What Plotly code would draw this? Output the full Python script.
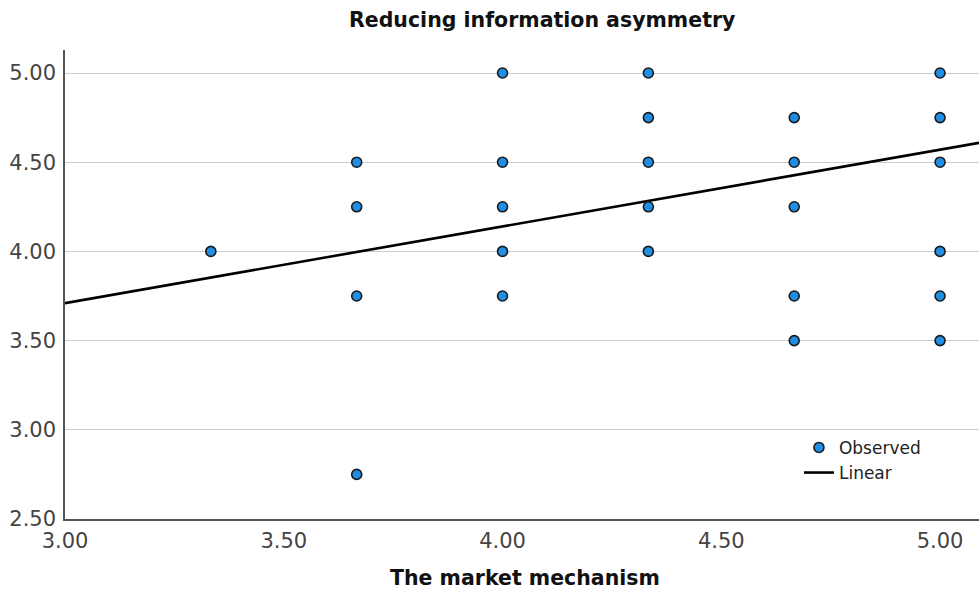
import plotly.graph_objects as go

# Observed values: market mechanism score (x) vs reducing information asymmetry score (y)
mechanism = [3.3333,
             3.6667, 3.6667, 3.6667, 3.6667,
             4.0, 4.0, 4.0, 4.0, 4.0,
             4.3333, 4.3333, 4.3333, 4.3333, 4.3333,
             4.6667, 4.6667, 4.6667, 4.6667, 4.6667,
             5.0, 5.0, 5.0, 5.0, 5.0, 5.0]
asymmetry = [4.00,
             4.50, 4.25, 3.75, 2.75,
             5.00, 4.50, 4.25, 4.00, 3.75,
             5.00, 4.75, 4.50, 4.25, 4.00,
             4.75, 4.50, 4.25, 3.75, 3.50,
             5.00, 4.75, 4.50, 4.00, 3.75, 3.50]

# Linear fit coefficients
intercept = 2.42
slope = 0.43

x_range = [3.0, 5.089]
y_range = [2.5, 5.129]
y_tick_vals = [2.5, 3.0, 3.5, 4.0, 4.5, 5.0]
x_tick_vals = [3.0, 3.5, 4.0, 4.5, 5.0]

fit_x = x_range
fit_y = [intercept + slope * v for v in fit_x]

FONT = "DejaVu Sans, Verdana, sans-serif"
W, H = 979, 590
L, R, T, B = 65, 0, 50, 71
plot_w, plot_h = W - L - R, H - T - B

fig = go.Figure()
fig.add_trace(go.Scatter(
    x=fit_x, y=fit_y, mode="lines", name="Linear",
    line=dict(color="black", width=2.6),
))
fig.add_trace(go.Scatter(
    x=mechanism, y=asymmetry, mode="markers", name="Observed",
    marker=dict(color="#1f8fe6", size=10, line=dict(color="#1a1a1a", width=1.6)),
    cliponaxis=False,
))

fig.update_layout(
    width=W, height=H,
    margin=dict(l=L, r=R, t=T, b=B),
    plot_bgcolor="white", paper_bgcolor="white",
    font=dict(family=FONT, color="#333333"),
    showlegend=True,
    legend=dict(
        x=0.803, y=0.19, xanchor="left", yanchor="top",
        bgcolor="rgba(0,0,0,0)", font=dict(family=FONT, size=17, color="#222222"),
        traceorder="reversed", tracegroupgap=0, itemwidth=30,
    ),
    xaxis=dict(
        range=x_range, tickvals=x_tick_vals, ticktext=[f"{v:.2f}" for v in x_tick_vals],
        showgrid=False, zeroline=False,
        showline=True, linecolor="#555555", linewidth=1.5,
        ticks="", tickfont=dict(family=FONT, size=21, color="#444444"),
        ticklabelstandoff=2,
    ),
    yaxis=dict(
        range=y_range, tickvals=y_tick_vals, ticktext=[f"{v:.2f}" for v in y_tick_vals],
        showgrid=True, gridcolor="#cccccc", gridwidth=1.2, zeroline=False,
        showline=True, linecolor="#555555", linewidth=1.5,
        ticks="", tickfont=dict(family=FONT, size=21, color="#444444"),
        ticklabelstandoff=3,
    ),
)

# Chart title
fig.add_annotation(
    text="<b>Reducing information asymmetry</b>", xref="paper", yref="paper",
    x=(542 - L) / plot_w, y=1 + (T - 20) / plot_h, xanchor="center", yanchor="middle",
    showarrow=False, font=dict(family=FONT, size=20.5, color="#111111"),
)
# X-axis title
fig.add_annotation(
    text="<b>The market mechanism</b>", xref="paper", yref="paper",
    x=(525 - L) / plot_w, y=-(578 - (H - B)) / plot_h, xanchor="center", yanchor="middle",
    showarrow=False, font=dict(family=FONT, size=20.5, color="#111111"),
)

fig.write_html("out.html")
